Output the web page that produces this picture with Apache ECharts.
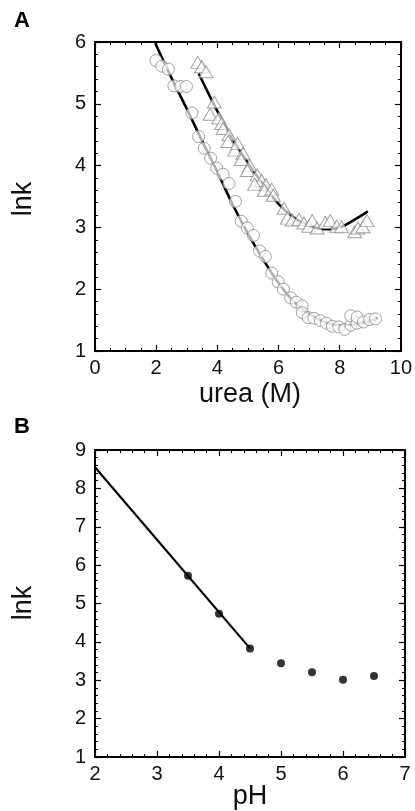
<!DOCTYPE html>
<html>
<head>
<meta charset="utf-8">
<script src="https://cdn.jsdelivr.net/npm/echarts@6/dist/echarts.min.js"></script>
<style>
  html, body { margin: 0; padding: 0; background: #fff; }
  #main { width: 415px; height: 811px; }
</style>
</head>
<body>
<div id="main"></div>
<script>
// panel A: urea (M) vs lnk, circles
var ureaCircles = [
    [1.99, 5.70], [2.18, 5.61], [2.40, 5.56], [2.58, 5.29], [2.80, 5.28], [2.99, 5.28],
    [3.17, 4.85], [3.39, 4.47], [3.57, 4.28], [3.78, 4.12], [3.98, 3.96], [4.19, 3.86],
    [4.38, 3.71], [4.59, 3.42], [4.78, 3.10], [4.98, 2.99], [5.18, 2.87], [5.38, 2.62],
    [5.57, 2.53], [5.78, 2.26], [5.99, 2.12], [6.16, 2.00], [6.40, 1.86], [6.58, 1.79],
    [6.77, 1.73], [6.78, 1.62], [6.97, 1.54], [7.16, 1.53], [7.37, 1.49], [7.57, 1.45],
    [7.76, 1.40], [7.97, 1.39], [8.17, 1.35], [8.37, 1.42], [8.36, 1.57], [8.56, 1.45],
    [8.57, 1.55], [8.78, 1.47], [8.98, 1.51], [9.17, 1.52]
];
// panel A: triangles
var ureaTriangles = [
    [3.36, 5.67], [3.49, 5.60], [3.63, 5.52], [3.90, 5.03], [3.76, 4.83], [4.05, 4.77],
    [4.14, 4.68], [4.19, 4.60], [4.38, 4.50], [4.35, 4.39], [4.57, 4.25], [4.66, 4.36],
    [4.84, 4.20], [4.78, 4.10], [5.06, 4.00], [4.98, 3.92], [5.30, 3.85], [5.45, 3.76],
    [5.22, 3.70], [5.59, 3.69], [5.54, 3.60], [5.78, 3.62], [5.83, 3.52], [6.18, 3.31],
    [6.29, 3.15], [6.45, 3.12], [6.67, 3.13], [6.83, 3.07], [6.99, 3.02], [7.10, 3.11],
    [7.26, 2.99], [7.53, 3.08], [7.69, 3.11], [7.90, 3.02], [8.06, 3.01], [8.49, 2.93],
    [8.60, 2.99], [8.76, 3.01], [8.89, 3.11]
];
// fitted curves
var fitCircles = [
    [1.97, 5.98], [2.5, 5.42], [3.0, 4.92], [3.5, 4.40], [4.0, 3.90], [4.5, 3.37],
    [5.0, 2.90], [5.5, 2.48], [6.0, 2.10], [6.5, 1.80], [7.0, 1.60], [7.5, 1.47],
    [8.0, 1.42], [8.5, 1.43], [9.0, 1.49], [9.25, 1.54]
];
var fitTriangles = [
    [3.39, 5.49], [4.0, 4.88], [4.5, 4.42], [5.0, 4.04], [5.5, 3.70], [6.0, 3.38],
    [6.5, 3.16], [7.0, 3.03], [7.5, 2.97], [8.0, 3.00], [8.5, 3.13], [8.92, 3.26]
];
// panel B: pH vs lnk
var pHValues = [3.5, 4.0, 4.5, 5.0, 5.5, 6.0, 6.5];
var lnkValues = [5.72, 4.73, 3.83, 3.44, 3.21, 3.01, 3.11];
var fitPH = [[2.0, 8.55], [4.5, 3.83]];

var fontFam = '"Liberation Sans", Arial, Helvetica, sans-serif';
var chart = echarts.init(document.getElementById('main'), null, { renderer: 'canvas' });

//坐标轴, 四边都有向内刻度
function makeAxis(gridIndex, pos, min, max, interval, minorSplit, showLabel) {
    return {
        type: 'value',
        gridIndex: gridIndex,
        position: pos,
        min: min,
        max: max,
        interval: interval,
        axisLine: { show: true, onZero: false, lineStyle: { color: '#000', width: 2 } },
        axisTick: { show: true, inside: true, length: 6, lineStyle: { color: '#000', width: 1.2 } },
        minorTick: { show: true, splitNumber: minorSplit, length: 3, lineStyle: { color: '#000', width: 1 } },
        axisLabel: {
            show: showLabel, color: '#111', fontSize: 20, fontFamily: fontFam,
            margin: (pos === 'left' || pos === 'right') ? 9 : 7
        },
        splitLine: { show: false },
        minorSplitLine: { show: false }
    };
}

var option = {
    backgroundColor: '#fff',
    animation: false,
    grid: [
        { left: 95, top: 42, width: 310, height: 309 },
        { left: 95, top: 450, width: 310, height: 307 }
    ],
    xAxis: [
        makeAxis(0, 'bottom', 0, 10, 2, 4, true),
        makeAxis(0, 'top', 0, 10, 2, 4, false),
        makeAxis(1, 'bottom', 2, 7, 1, 5, true),
        makeAxis(1, 'top', 2, 7, 1, 5, false)
    ],
    yAxis: [
        makeAxis(0, 'left', 1, 6, 1, 5, true),
        makeAxis(0, 'right', 1, 6, 1, 5, false),
        makeAxis(1, 'left', 1, 9, 1, 5, true),
        makeAxis(1, 'right', 1, 9, 1, 5, false)
    ],
    graphic: [
        { type: 'text', left: 14, top: 10, style: { text: 'A', font: 'bold 22px ' + fontFam, fill: '#000' } },
        { type: 'text', left: 14, top: 416, style: { text: 'B', font: 'bold 22px ' + fontFam, fill: '#000' } },
        { type: 'text', x: 24, y: 199, rotation: Math.PI / 2,
          style: { text: 'lnk', font: '27px ' + fontFam, fill: '#111', align: 'center', verticalAlign: 'middle' } },
        { type: 'text', x: 24, y: 603, rotation: Math.PI / 2,
          style: { text: 'lnk', font: '27px ' + fontFam, fill: '#111', align: 'center', verticalAlign: 'middle' } },
        { type: 'text', x: 250, y: 395,
          style: { text: 'urea (M)', font: '27px ' + fontFam, fill: '#111', align: 'center', verticalAlign: 'middle' } },
        { type: 'text', x: 250, y: 797,
          style: { text: 'pH', font: '27px ' + fontFam, fill: '#111', align: 'center', verticalAlign: 'middle' } }
    ],
    series: [
        {
            type: 'line', xAxisIndex: 0, yAxisIndex: 0, data: fitCircles,
            showSymbol: false, smooth: 0.4, z: 2,
            lineStyle: { color: '#000', width: 2.6 }
        },
        {
            type: 'line', xAxisIndex: 0, yAxisIndex: 0, data: fitTriangles,
            showSymbol: false, smooth: 0.4, z: 2,
            lineStyle: { color: '#000', width: 2.6 }
        },
        {
            type: 'scatter', xAxisIndex: 0, yAxisIndex: 0, data: ureaCircles,
            symbol: 'circle', symbolSize: 12, z: 3,
            itemStyle: { color: 'rgba(255,255,255,0.85)', borderColor: '#8a8a8a', borderWidth: 1 }
        },
        {
            type: 'scatter', xAxisIndex: 0, yAxisIndex: 0, data: ureaTriangles,
            symbol: 'triangle', symbolSize: [14, 12], z: 3,
            itemStyle: { color: 'rgba(255,255,255,0.85)', borderColor: '#8a8a8a', borderWidth: 1 }
        },
        {
            type: 'line', xAxisIndex: 2, yAxisIndex: 2, data: fitPH,
            showSymbol: false, z: 2,
            lineStyle: { color: '#000', width: 2.2 }
        },
        {
            type: 'scatter', xAxisIndex: 2, yAxisIndex: 2,
            data: pHValues.map(function (v, i) { return [v, lnkValues[i]]; }),
            symbol: 'circle', symbolSize: 8, z: 3,
            itemStyle: { color: '#000' }
        }
    ]
};
chart.setOption(option);
</script>
</body>
</html>
